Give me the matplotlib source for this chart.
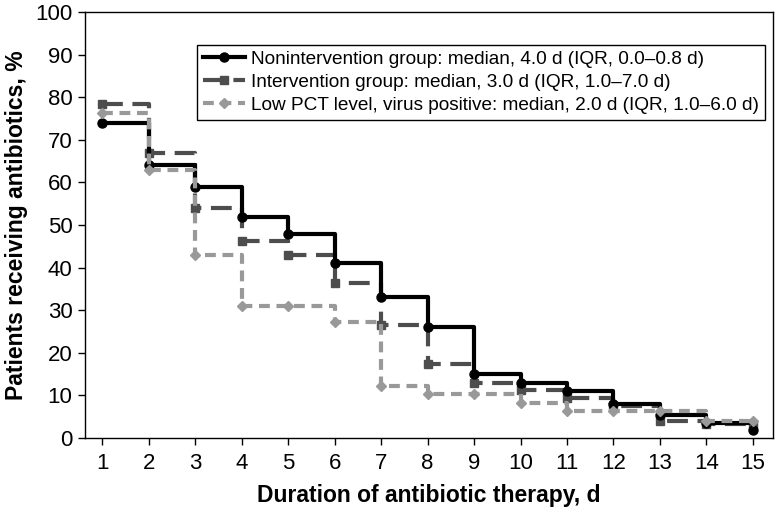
import numpy as np
import matplotlib
matplotlib.use("Agg")
import matplotlib.pyplot as plt

plt.rcParams['font.family'] = ['Liberation Sans', 'DejaVu Sans']

days = np.arange(1, 16)

# percent of patients still receiving antibiotics on each day
nonintervention = [74, 64, 59, 52, 48, 41, 33, 26, 15, 13, 11, 8, 5.4, 3.5, 1.9]
intervention = [78.5, 67, 54, 46.3, 43, 36.3, 26.5, 17.3, 13, 11.2, 9.4, 7.6, 4, 3.3, 3.3]
low_pct = [76.4, 63, 43, 31, 31, 27.2, 12.2, 10.3, 10.3, 8.3, 6.3, 6.3, 6.3, 4, 4]

labels = [
    "Nonintervention group: median, 4.0 d (IQR, 0.0\u20130.8 d)",
    "Intervention group: median, 3.0 d (IQR, 1.0\u20137.0 d)",
    "Low PCT level, virus positive: median, 2.0 d (IQR, 1.0\u20136.0 d)",
]

fig = plt.figure(figsize=(7.76, 5.13), dpi=100)
ax = fig.add_axes([0.1095, 0.146, 0.8865, 0.8306])

ax.step(days, nonintervention, where='post', color='black', lw=3,
        marker='o', markersize=6.5, label=labels[0], zorder=3)
ax.step(days, intervention, where='post', color='#4d4d4d', lw=3,
        dashes=(5, 2.3), marker='s', markersize=6, label=labels[1], zorder=2)
ax.step(days, low_pct, where='post', color='#999999', lw=3,
        dashes=(2.6, 1.6), marker='D', markersize=5.5, label=labels[2], zorder=4)

ax.set_xlim(0.63, 15.43)
ax.set_ylim(0, 100)
ax.set_xticks(days)
ax.set_yticks(np.arange(0, 101, 10))
ax.tick_params(direction='out', length=5, width=1, labelsize=16, colors='black')
ax.tick_params(axis='x', pad=6)
ax.tick_params(axis='y', pad=4)
for s in ax.spines.values():
    s.set_linewidth(1)

ax.set_xlabel("Duration of antibiotic therapy, d", fontsize=16.5, fontweight='bold', labelpad=7)
ax.set_ylabel("Patients receiving antibiotics, %", fontsize=16.5, fontweight='bold', labelpad=5)

leg = ax.legend(loc='upper right', bbox_to_anchor=(0.9884, 0.9225), borderaxespad=0,
                fontsize=13.7, handlelength=2.2, labelspacing=0.3, fancybox=False,
                framealpha=1, edgecolor='black', borderpad=0.3, handletextpad=0.35)
leg.get_frame().set_linewidth(1)

fig.savefig("out.png", dpi=100)
